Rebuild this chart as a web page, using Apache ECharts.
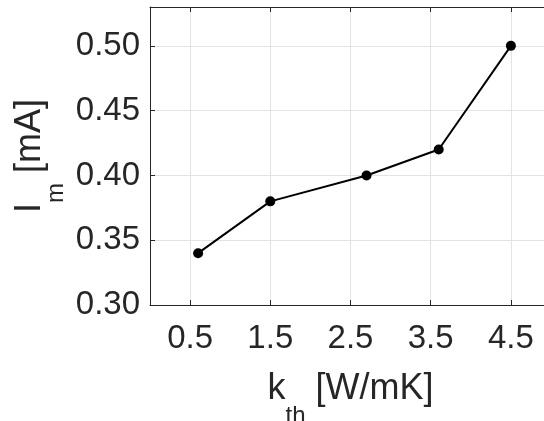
<!DOCTYPE html>
<html>
<head>
<meta charset="utf-8">
<script src="https://cdn.jsdelivr.net/npm/echarts@6/dist/echarts.min.js"></script>
<style>html,body{margin:0;padding:0;background:#fff;}#c{width:544px;height:421px;}</style>
</head>
<body>
<div id="c"></div>
<script>
const kth = [0.6, 1.5, 2.7, 3.6, 4.5];
const im = [0.34, 0.38, 0.40, 0.42, 0.50];
const xTicks = [0.5, 1.5, 2.5, 3.5, 4.5];
const yTicks = [0.30, 0.35, 0.40, 0.45, 0.50];

const FONT = 'Liberation Sans';
const INK = '#262626';
const chart = echarts.init(document.getElementById('c'), null, {renderer: 'canvas'});
const xBase = {
  type: 'value', min: 0, max: 5,
  axisLine: {show: true, onZero: false, lineStyle: {color: INK, width: 1}},
  axisTick: {show: true, inside: true, length: 5, customValues: xTicks, lineStyle: {color: INK}}
};
const xRich = {
  a: {fontSize: 36, fontFamily: FONT, color: INK, lineHeight: 40},
  s: {fontSize: 24, fontFamily: FONT, color: INK, lineHeight: 24, padding: [54, 0, 0, 0]}
};
const yRich = {
  a: {fontSize: 36, fontFamily: FONT, color: INK, lineHeight: 40},
  s: {fontSize: 24, fontFamily: FONT, color: INK, lineHeight: 24, padding: [52, 0, 0, 0]}
};
chart.setOption({
  animation: false,
  backgroundColor: '#fff',
  grid: {left: 150, top: 7, width: 401, height: 298, containLabel: false, outerBoundsMode: 'none'},
  xAxis: [
    Object.assign({}, xBase, {
      position: 'bottom',
      axisLabel: {customValues: xTicks, color: INK, fontFamily: FONT, fontSize: 33, margin: 17,
        formatter: v => v.toFixed(1)},
      splitLine: {show: true, lineStyle: {color: '#e3e3e3', width: 1}},
      name: '{a|k}{s|th}{a| [W/mK]}',
      nameLocation: 'middle', nameGap: 64, nameMoveOverlap: false,
      nameTextStyle: {color: INK, fontFamily: FONT, rich: xRich}
    }),
    Object.assign({}, xBase, {
      position: 'top',
      axisLabel: {show: false},
      splitLine: {show: false}
    })
  ],
  yAxis: [
    {
      type: 'value', min: 0.30, max: 0.53, position: 'left',
      axisLine: {show: true, onZero: false, lineStyle: {color: INK, width: 1}},
      axisTick: {show: true, inside: true, length: 5, customValues: yTicks, lineStyle: {color: INK}},
      axisLabel: {customValues: yTicks, color: INK, fontFamily: FONT, fontSize: 33, margin: 10,
        formatter: v => v.toFixed(2)},
      splitLine: {show: true, lineStyle: {color: '#e3e3e3', width: 1}},
      name: '{a|I}{s|m}{a| [mA]}',
      nameLocation: 'middle', nameGap: 100, nameRotate: 90, nameMoveOverlap: false,
      nameTextStyle: {color: INK, fontFamily: FONT, rich: yRich}
    },
    {
      type: 'value', min: 0.30, max: 0.53, position: 'right',
      axisLine: {show: true, onZero: false, lineStyle: {color: INK, width: 1}},
      axisTick: {show: true, inside: true, length: 5, customValues: yTicks, lineStyle: {color: INK}},
      axisLabel: {show: false},
      splitLine: {show: false}
    }
  ],
  series: [{
    type: 'line',
    data: kth.map((x, i) => [x, im[i]]),
    xAxisIndex: 0, yAxisIndex: 0,
    symbol: 'circle', symbolSize: 10,
    lineStyle: {color: '#000', width: 2},
    itemStyle: {color: '#000'},
    z: 5
  }]
});
</script>
</body>
</html>
